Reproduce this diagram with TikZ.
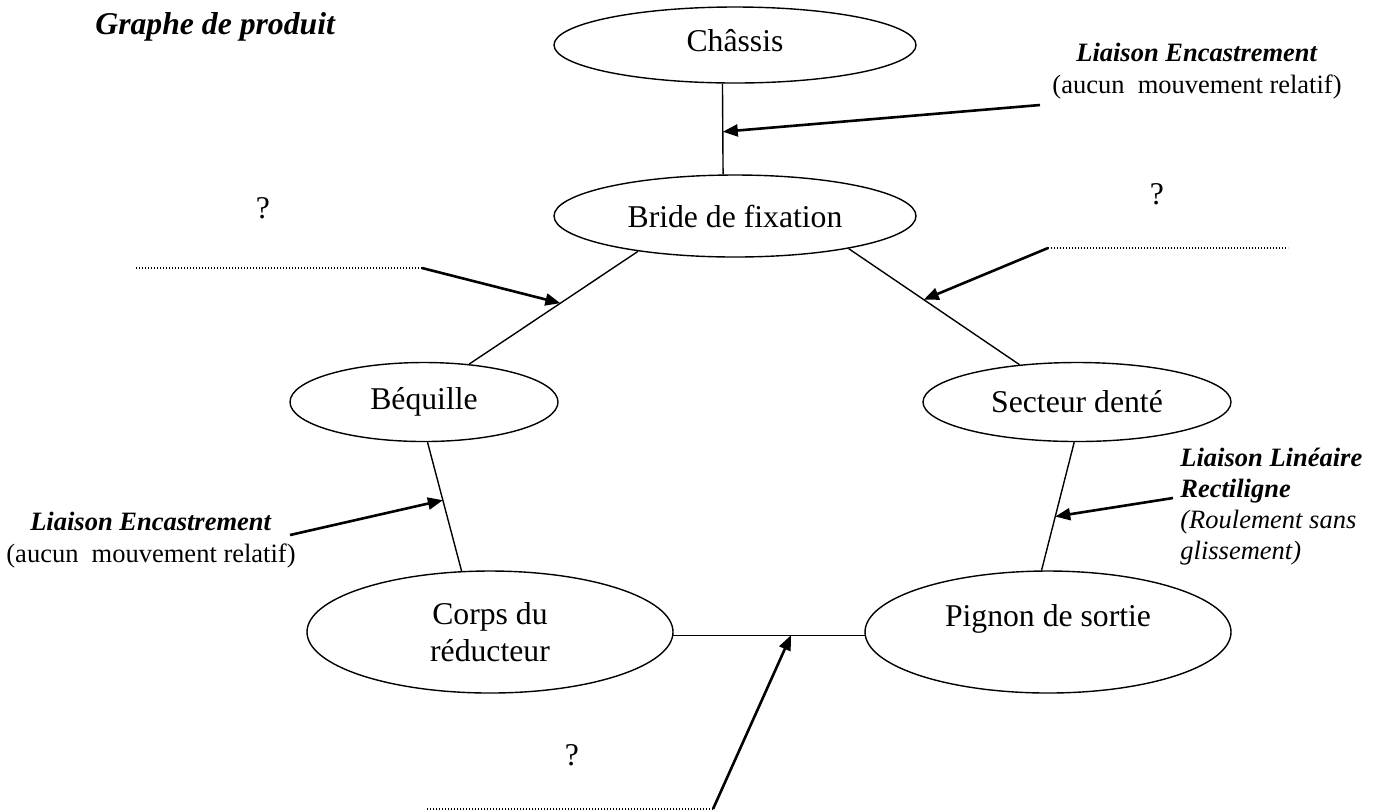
\documentclass[tikz,border=0pt]{standalone}
\usepackage{fontspec}
\setmainfont{Liberation Serif}
\usetikzlibrary{shapes.geometric,arrows.meta,calc}
\begin{document}
\begin{tikzpicture}[x=0.5pt,y=-0.5pt,
  part/.style={ellipse,draw,line width=0.7pt,inner sep=0pt,font=\fontsize{15.85}{18.3}\selectfont,align=center},
  link/.style={line width=0.7pt},
  callout/.style={line width=1.3pt,-{Triangle[length=7.5pt,width=6pt]}},
  blank/.style={line width=0.6pt,dash pattern=on 0.6pt off 0.9pt},
  note/.style={font=\fontsize{13.25}{16}\selectfont,inner sep=0pt},
  qmark/.style={font=\fontsize{15.85}{18}\selectfont,inner sep=0pt}]
\useasboundingbox (0,0) rectangle (1384,811);

\node[font=\fontsize{15.85}{18}\selectfont\bfseries\itshape,anchor=west,inner sep=0pt] (title) at (95,27) {Graphe de produit};

\node[part,minimum width=181pt,minimum height=38pt,text height=12pt,text depth=6pt] (chassis) at (735,45) {Châssis};
\node[part,minimum width=181pt,minimum height=41pt] (bride) at (735,216) {Bride de fixation};
\node[part,minimum width=134pt,minimum height=39.5pt] (bequille) at (424,402) {Béquille};
\node[part,minimum width=154pt,minimum height=39.5pt] (secteur) at (1077,402) {Secteur denté};
\node[part,minimum width=183pt,minimum height=61pt] (corps) at (490,632) {Corps du\\réducteur};
\node[part,minimum width=183pt,minimum height=61pt,text height=12pt,text depth=18pt] (pignon) at (1048,632) {Pignon de sortie};

\draw[link] (chassis.252) -- (bride.106);
\draw[link] (bride.200) -- (bequille.40);
\draw[link] (bride.344) -- (secteur.147);
\draw[link] (bequille.275) -- (corps.115);
\draw[link] (secteur.266) -- (pignon.96);
\draw[link] (corps.359) -- (pignon.181);

% top callout
\node[note,align=center] (lab1) at (1197,71) {\textbf{\textit{Liaison Encastrement}}\\(aucun\ \ mouvement relatif)};
\coordinate (s1) at (1040,105);
\coordinate (t1) at ($(chassis.252)!0.53!(bride.106)$);
\draw[callout] (s1) -- (t1);

% upper left blank
\node[qmark] (q1) at (263,208) {?};
\coordinate (d2a) at (136,268);
\coordinate (d2b) at (422,268);
\coordinate (t2) at ($(bride.200)!0.46!(bequille.40)$);
\draw[blank] (d2a) -- (d2b);
\draw[callout] (d2b) -- (t2);

% upper right blank
\node[qmark] (q2) at (1157,194) {?};
\coordinate (d3a) at (1048,248);
\coordinate (d3b) at (1288,248);
\coordinate (t3) at ($(bride.344)!0.44!(secteur.147)$);
\draw[blank] (d3a) -- (d3b);
\draw[callout] (d3a) -- (t3);

% left callout
\node[note,align=center] (lab2) at (151,540) {\textbf{\textit{Liaison Encastrement}}\\(aucun\ \ mouvement relatif)};
\coordinate (s4) at (290,535);
\coordinate (t4) at ($(bequille.275)!0.45!(corps.115)$);
\draw[callout] (s4) -- (t4);

% right callout
\node[note,align=left,anchor=west,font=\fontsize{13.25}{15.5}\selectfont] (lab3) at (1180,507) {\textbf{\textit{Liaison Linéaire}}\\\textbf{\textit{Rectiligne}}\\\textit{(Roulement sans}\\\textit{glissement)}};
\coordinate (s5) at (1173,498);
\coordinate (t5) at ($(secteur.266)!0.58!(pignon.96)$);
\draw[callout] (s5) -- (t5);

% bottom blank
\node[qmark] (q3) at (572,755) {?};
\coordinate (d6a) at (427,809);
\coordinate (d6b) at (713,809);
\coordinate (t6) at ($(corps.359)!0.615!(pignon.181)$);
\draw[blank] (d6a) -- (d6b);
\draw[callout] (d6b) -- (t6);
\end{tikzpicture}
\end{document}
